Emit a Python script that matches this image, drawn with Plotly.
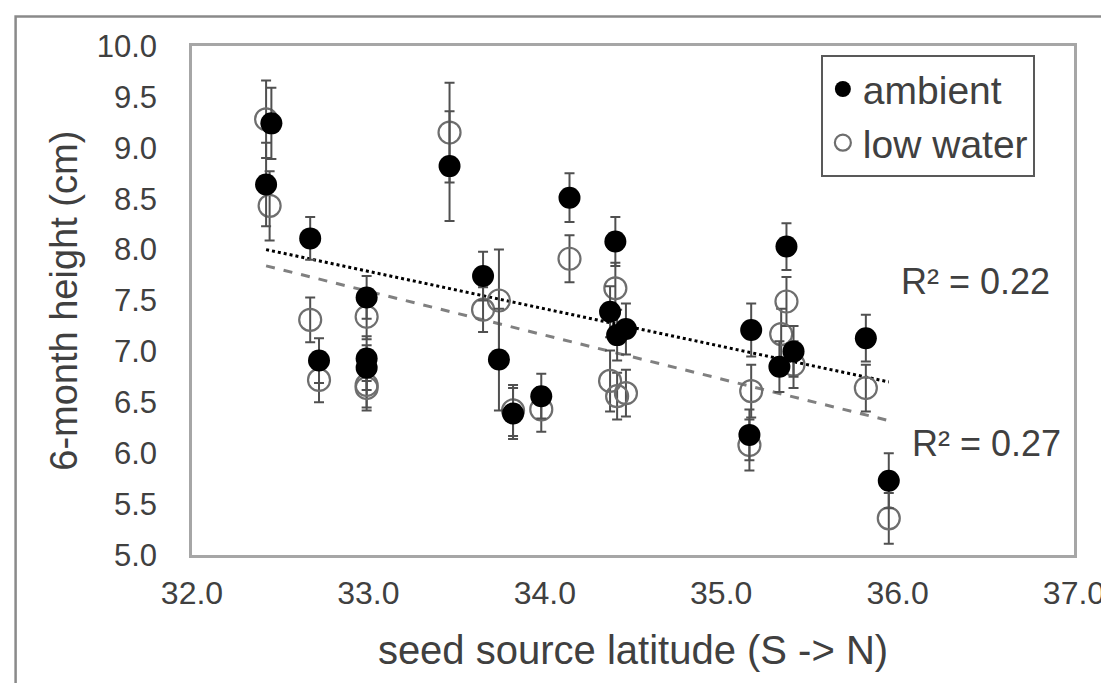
import plotly.graph_objects as go

# seed source latitude for each population (ambient / low water measured on the same populations)
latitude = [32.45, 32.42, 32.67, 32.72, 32.99, 32.99, 32.99, 33.46, 33.65, 33.74, 33.82, 33.98,
            34.14, 34.40, 34.37, 34.46, 34.41, 35.17, 35.16, 35.37, 35.33, 35.41, 35.82, 35.95]
latitude_low = [32.42, 32.44, 32.67, 32.72, 32.99, 32.99, 32.99, 33.46, 33.65, 33.74, 33.82, 33.98,
                34.14, 34.40, 34.37, 34.41, 34.46, 35.17, 35.16, 35.37, 35.34, 35.41, 35.82, 35.95]

# 6-month height (cm) and standard errors
ambient = [9.24, 8.64, 8.11, 6.91, 7.53, 6.93, 6.84, 8.82, 7.74, 6.92, 6.39, 6.56,
           8.51, 8.08, 7.39, 7.22, 7.16, 7.21, 6.18, 8.03, 6.85, 7.00, 7.13, 5.73]
ambient_se = [0.35, 0.41, 0.21, 0.22, 0.21, 0.22, 0.22, 0.54, 0.24, 0.50, 0.25, 0.22,
              0.24, 0.24, 0.25, 0.25, 0.25, 0.26, 0.25, 0.23, 0.25, 0.25, 0.23, 0.27]
low_water = [9.28, 8.43, 7.31, 6.72, 7.34, 6.67, 6.64, 9.15, 7.41, 7.50, 6.42, 6.43,
             7.91, 7.62, 6.71, 6.56, 6.59, 6.61, 6.08, 7.49, 7.17, 6.87, 6.64, 5.36]
low_water_se = [0.38, 0.34, 0.22, 0.22, 0.22, 0.22, 0.22, 0.49, 0.22, 0.50, 0.25, 0.22,
                0.23, 0.25, 0.30, 0.23, 0.23, 0.26, 0.25, 0.24, 0.25, 0.23, 0.23, 0.25]

# linear trendline endpoints as shown on the chart
trend_lat = [32.42, 35.95]
ambient_fit = [8.00, 6.70]
low_water_fit = [7.84, 6.32]

FONT = "Liberation Sans"
TEXT = "#404040"
ERR = "#505050"

fig = go.Figure()

fig.add_trace(go.Scatter(
    x=trend_lat, y=ambient_fit, mode="lines", showlegend=False, hoverinfo="skip",
    line=dict(color="black", width=3, dash="dot")
))
fig.add_trace(go.Scatter(
    x=trend_lat, y=low_water_fit, mode="lines", showlegend=False, hoverinfo="skip",
    line=dict(color="#808080", width=3, dash="dash")
))

fig.add_trace(go.Scatter(
    x=latitude_low, y=low_water, mode="markers", name="low water", legendgroup="b",
    marker=dict(symbol="circle-open", size=22, color="#6e6e6e", line=dict(width=2.2)),
    error_y=dict(type="data", array=low_water_se, color=ERR, thickness=2, width=5)
))
fig.add_trace(go.Scatter(
    x=latitude, y=ambient, mode="markers", name="ambient", legendgroup="a",
    marker=dict(symbol="circle", size=22, color="black"),
    error_y=dict(type="data", array=ambient_se, color=ERR, thickness=2, width=5)
))

fig.add_annotation(x=36.01, y=7.69, text="R² = 0.22", showarrow=False, xanchor="left",
                   font=dict(family=FONT, size=36, color=TEXT))
fig.add_annotation(x=36.07, y=6.10, text="R² = 0.27", showarrow=False, xanchor="left",
                   font=dict(family=FONT, size=36, color=TEXT))

# y axis title placed by hand so it sits next to the tick labels
fig.add_annotation(xref="paper", yref="paper", x=-0.146, y=0.5, text="6-month height (cm)",
                   textangle=-90, showarrow=False, xanchor="center", yanchor="middle",
                   font=dict(family=FONT, size=38, color=TEXT))

# outer picture border
fig.add_shape(type="rect", xref="paper", yref="paper", x0=-0.2, x1=1.06, y0=-0.3, y1=1.058,
              line=dict(color="#8a8a8a", width=2.5), layer="below")

fig.update_layout(
    width=1109, height=683,
    margin=dict(l=184, r=36, t=38, b=136),
    plot_bgcolor="white", paper_bgcolor="white",
    font=dict(family=FONT, color=TEXT),
    legend=dict(
        x=0.713, y=0.982, xanchor="left", yanchor="top",
        traceorder="reversed", tracegroupgap=18,
        bgcolor="white", bordercolor="#595959", borderwidth=2,
        font=dict(family=FONT, size=39, color=TEXT),
    ),
    xaxis=dict(
        range=[32, 37], dtick=1, tickformat=".1f", showgrid=False, zeroline=False,
        showline=True, mirror=True, linecolor="#a6a6a6", linewidth=2.5,
        ticks="", ticklabelstandoff=8, tickfont=dict(size=32, color=TEXT),
        title=dict(text="seed source latitude (S -> N)", font=dict(size=40, color=TEXT), standoff=26),
    ),
    yaxis=dict(
        range=[5, 10], dtick=0.5, tickformat=".1f", showgrid=False, zeroline=False,
        showline=True, mirror=True, linecolor="#a6a6a6", linewidth=2.5,
        ticks="", ticklabelstandoff=26, tickfont=dict(size=31, color=TEXT),
    ),
)

fig.write_html("out.html")
